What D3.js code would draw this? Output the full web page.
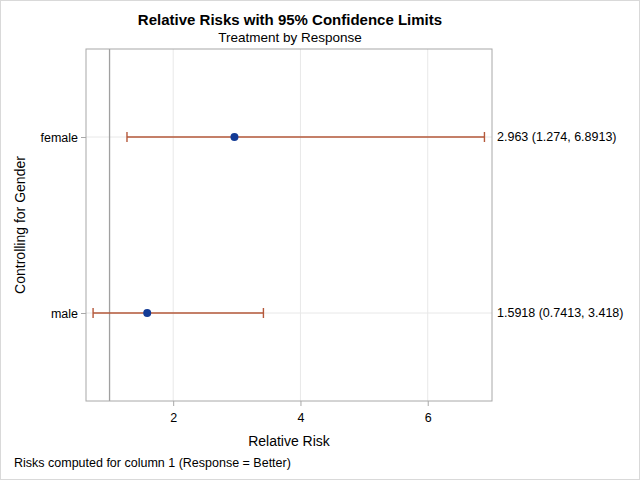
<!DOCTYPE html>
<html>
<head>
<meta charset="utf-8">
<script src="https://cdn.jsdelivr.net/npm/d3@7"></script>
<style>
  body { margin: 0; background: #fff; }
  svg text { font-family: "Liberation Sans", Arial, sans-serif; fill: #000; }
</style>
</head>
<body>
<svg id="chart" width="640" height="480"></svg>
<script>
// data
var strata = ["female", "male"];
var risks = [2.963, 1.5918];
var lower = [1.274, 0.7413];
var upper = [6.8913, 3.418];
var statLabels = ["2.963 (1.274, 6.8913)", "1.5918 (0.7413, 3.418)"];
var xTicks = [2, 4, 6];

var width = 640, height = 480;
var plot = { left: 86, right: 492, top: 49, bottom: 401 };

var svg = d3.select("#chart");

svg.append("rect")
    .attr("x", 0.5).attr("y", 0.5)
    .attr("width", width - 1).attr("height", height - 1)
    .attr("fill", "#fff").attr("stroke", "#d9d9d9");

var x = d3.scaleLinear().domain([0.63, 7.01]).range([plot.left, plot.right]);
var y = d3.scalePoint().domain(strata).range([plot.top, plot.bottom]).padding(0.5);

// grid lines
svg.append("g").selectAll("line").data(xTicks)
    .enter().append("line")
    .attr("x1", function (d) { return x(d); })
    .attr("x2", function (d) { return x(d); })
    .attr("y1", plot.top).attr("y2", plot.bottom)
    .attr("stroke", "#e8e8e8");
svg.append("g").selectAll("line").data(strata)
    .enter().append("line")
    .attr("x1", plot.left).attr("x2", plot.right)
    .attr("y1", function (d) { return y(d); })
    .attr("y2", function (d) { return y(d); })
    .attr("stroke", "#e8e8e8");

// reference line at 1
svg.append("line")
    .attr("x1", x(1)).attr("x2", x(1))
    .attr("y1", plot.top).attr("y2", plot.bottom)
    .attr("stroke", "#a0a0a0").attr("stroke-width", 1.3);

var rows = strata.map(function (s, i) {
    return { name: s, est: risks[i], lo: lower[i], hi: upper[i], label: statLabels[i] };
});

var bars = svg.append("g").selectAll("g").data(rows).enter().append("g");
var errColor = "#b5583a";
bars.append("line")
    .attr("x1", function (d) { return x(d.lo); })
    .attr("x2", function (d) { return x(d.hi); })
    .attr("y1", function (d) { return y(d.name); })
    .attr("y2", function (d) { return y(d.name); })
    .attr("stroke", errColor).attr("stroke-width", 1.4);
bars.append("line")
    .attr("x1", function (d) { return x(d.lo); })
    .attr("x2", function (d) { return x(d.lo); })
    .attr("y1", function (d) { return y(d.name) - 5; })
    .attr("y2", function (d) { return y(d.name) + 5; })
    .attr("stroke", errColor).attr("stroke-width", 1.4);
bars.append("line")
    .attr("x1", function (d) { return x(d.hi); })
    .attr("x2", function (d) { return x(d.hi); })
    .attr("y1", function (d) { return y(d.name) - 5; })
    .attr("y2", function (d) { return y(d.name) + 5; })
    .attr("stroke", errColor).attr("stroke-width", 1.4);
bars.append("circle")
    .attr("cx", function (d) { return x(d.est); })
    .attr("cy", function (d) { return y(d.name); })
    .attr("r", 4)
    .attr("fill", "#133b96");
bars.append("text")
    .attr("x", plot.right + 5)
    .attr("y", function (d) { return y(d.name); })
    .attr("dy", "0.35em")
    .attr("font-size", 12.5)
    .text(function (d) { return d.label; });

// frame
svg.append("rect")
    .attr("x", plot.left).attr("y", plot.top)
    .attr("width", plot.right - plot.left).attr("height", plot.bottom - plot.top)
    .attr("fill", "none").attr("stroke", "#a8a8a8");

// axes
var xAxis = svg.append("g")
    .attr("transform", "translate(0," + plot.bottom + ")")
    .call(d3.axisBottom(x).tickValues(xTicks).tickSize(5).tickSizeOuter(0).tickFormat(d3.format("d")));
xAxis.select(".domain").remove();
xAxis.selectAll("line").attr("stroke", "#a8a8a8");
xAxis.selectAll("text").attr("font-size", 12.5).attr("dy", "1.05em")
    .attr("font-family", "'Liberation Sans', Arial, sans-serif");

var yAxis = svg.append("g")
    .attr("transform", "translate(" + plot.left + ",0)")
    .call(d3.axisLeft(y).tickSize(5).tickSizeOuter(0));
yAxis.select(".domain").remove();
yAxis.selectAll("line").attr("stroke", "#a8a8a8");
yAxis.selectAll("text").attr("font-size", 12.5)
    .attr("font-family", "'Liberation Sans', Arial, sans-serif");

// titles
svg.append("text")
    .attr("x", 290).attr("y", 25)
    .attr("text-anchor", "middle")
    .attr("font-size", 15).attr("font-weight", "bold")
    .text("Relative Risks with 95% Confidence Limits");
svg.append("text")
    .attr("x", 290).attr("y", 42)
    .attr("text-anchor", "middle")
    .attr("font-size", 13.5)
    .text("Treatment by Response");
svg.append("text")
    .attr("x", (plot.left + plot.right) / 2).attr("y", 446)
    .attr("text-anchor", "middle")
    .attr("font-size", 14)
    .text("Relative Risk");
svg.append("text")
    .attr("transform", "translate(25," + (plot.top + plot.bottom) / 2 + ") rotate(-90)")
    .attr("text-anchor", "middle")
    .attr("font-size", 14)
    .text("Controlling for Gender");
svg.append("text")
    .attr("x", 14).attr("y", 467)
    .attr("font-size", 12.5)
    .text("Risks computed for column 1 (Response = Better)");
</script>
</body>
</html>
